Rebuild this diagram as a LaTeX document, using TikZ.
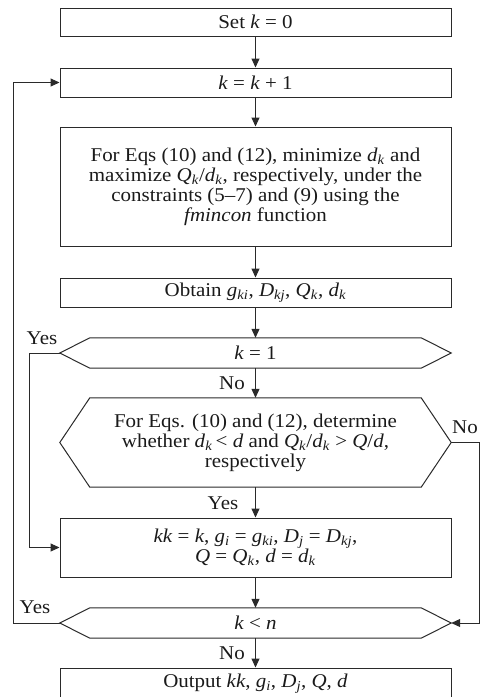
\documentclass[tikz,border=0pt]{standalone}
\usepackage{fontspec}
\setmainfont{Liberation Serif}[FakeStretch=1.075]
\usetikzlibrary{arrows.meta,calc}
\newcommand{\iv}[1]{\textit{#1}}
\newcommand{\isub}[1]{\textsubscript{\textit{#1}}}
\definecolor{linec}{HTML}{2A2A2A}
\definecolor{textc}{HTML}{1A1A1A}
\begin{document}
\begin{tikzpicture}[x=1pt,y=-1pt,
  font=\fontsize{19.5}{20}\selectfont,
  every node/.style={text=textc},
  box/.style={draw=linec, line width=1pt, rectangle, inner sep=0pt,
    minimum width=391pt, align=center},
  hexcore/.style={rectangle, inner sep=0pt, minimum width=331pt, align=center},
  hexline/.style={draw=linec, line width=1pt},
  flow/.style={draw=linec, line width=1pt, -{Triangle[length=9pt,width=8pt]}},
  tag/.style={inner sep=0pt}]
\useasboundingbox (0,0) rectangle (481,697);

% process boxes
\node[box, minimum height=28pt] (b1) at (255.5,22) {Set \iv{k} = 0};
\node[box, minimum height=29pt] (b2) at (255.5,82.5) {\iv{k} = \iv{k} + 1};
\node[box, minimum height=119pt] (b3) at (255.5,186.5)
  {For Eqs (10) and (12), minimize \iv{d}\isub{k} and\\
   maximize \iv{Q}\isub{k}/\iv{d}\isub{k}, respectively, under the\\
   constraints (5–7) and (9) using the\\
   \iv{fmincon} function};
\node[box, minimum height=29pt] (b4) at (255.5,292.5)
  {Obtain \iv{g}\isub{ki}, \iv{D}\isub{kj}, \iv{Q}\isub{k}, \iv{d}\isub{k}};

% decision k = 1
\node[hexcore, minimum height=30pt] (h1) at (255.5,353) {\iv{k} = 1};
\coordinate (h1L) at ($(h1.west)+(-30,0)$);
\coordinate (h1R) at ($(h1.east)+(30,0)$);
\draw[hexline] (h1.north west) -- (h1.north east) -- (h1R) -- (h1.south east)
  -- (h1.south west) -- (h1L) -- cycle;

% decision on the objective
\node[hexcore, minimum height=89pt] (h2) at (255.5,442.5)
  {For Eqs. (10) and (12), determine\\
   whether \iv{d}\isub{k}\,< \iv{d} and \iv{Q}\isub{k}/\iv{d}\isub{k} > \iv{Q}/\iv{d},\\
   respectively};
\coordinate (h2L) at ($(h2.west)+(-30,0)$);
\coordinate (h2R) at ($(h2.east)+(30,0)$);
\draw[hexline] (h2.north west) -- (h2.north east) -- (h2R) -- (h2.south east)
  -- (h2.south west) -- (h2L) -- cycle;

\node[box, minimum height=59pt] (b5) at (255.5,547.5)
  {\iv{kk} = \iv{k}, \iv{g}\isub{i} = \iv{g}\isub{ki}, \iv{D}\isub{j} = \iv{D}\isub{kj},\\
   \iv{Q} = \iv{Q}\isub{k}, \iv{d} = \iv{d}\isub{k}};

% decision k < n
\node[hexcore, minimum height=30pt] (h3) at (255.5,623) {\iv{k} < \iv{n}};
\coordinate (h3L) at ($(h3.west)+(-30,0)$);
\coordinate (h3R) at ($(h3.east)+(30,0)$);
\draw[hexline] (h3.north west) -- (h3.north east) -- (h3R) -- (h3.south east)
  -- (h3.south west) -- (h3L) -- cycle;

\node[box, minimum height=31pt] (b6) at (255.5,683.5)
  {\raisebox{2pt}{Output \iv{kk}, \iv{g}\isub{i}, \iv{D}\isub{j}, \iv{Q}, \iv{d}}};

% main flow
\draw[flow] (b1.south) -- (b2.north);
\draw[flow] (b2.south) -- (b3.north);
\draw[flow] (b3.south) -- (b4.north);
\draw[flow] (b4.south) -- (h1.north);
\draw[flow] (h1.south) -- (h2.north);
\draw[flow] (h2.south) -- (b5.north);
\draw[flow] (b5.south) -- (h3.north);
\draw[flow] (h3.south) -- (b6.north);

% side branches
\draw[flow] (h1L) -- ++(-30,0) |- (b5.west);
\draw[flow] (h3L) -- ++(-46,0) |- (b2.west);
\draw[flow] (h2R) -- ++(28,0) |- (h3R);

% branch labels
\node[tag] (l1) at (42,338) {Yes};
\node[tag] (l2) at (232,383) {No};
\node[tag] (l3) at (465,427) {No};
\node[tag] (l4) at (223,503) {Yes};
\node[tag] (l5) at (35,607) {Yes};
\node[tag] (l6) at (232,653) {No};
\end{tikzpicture}
\end{document}
